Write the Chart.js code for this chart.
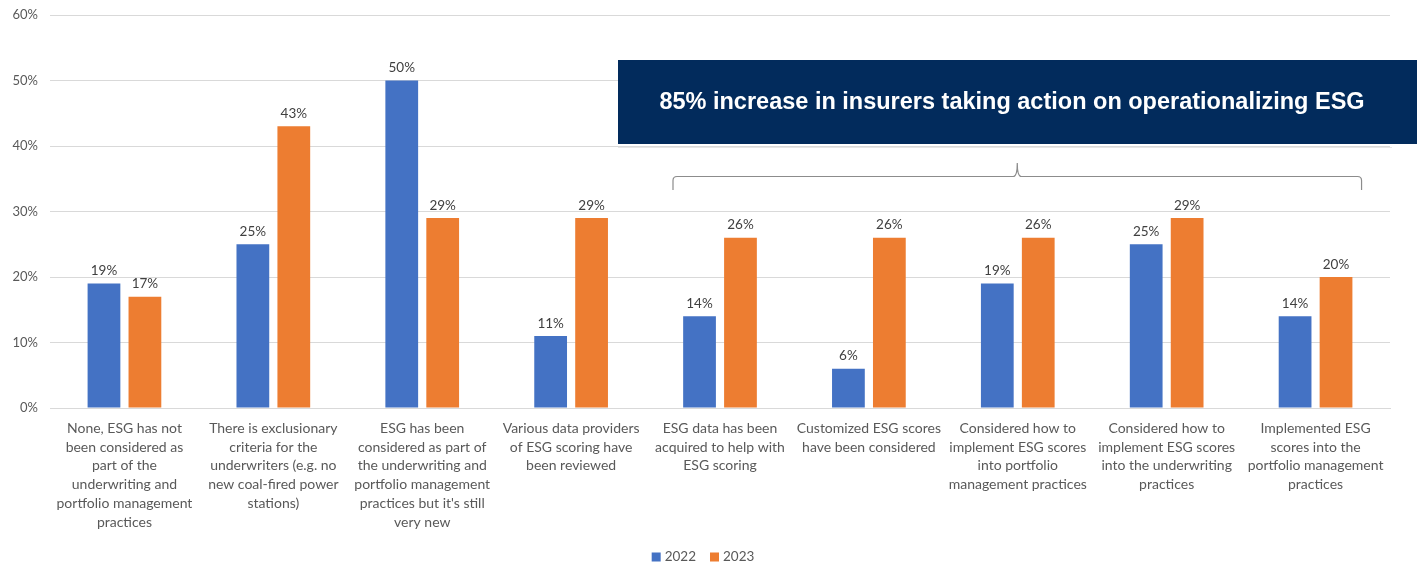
<!DOCTYPE html>
<html>
<head>
<meta charset="utf-8">
<script src="https://cdn.jsdelivr.net/npm/chart.js@4.4.0/dist/chart.umd.min.js"></script>
<style>
  html, body { margin: 0; padding: 0; background: #ffffff; }
  #wrap { width: 1419px; height: 567px; }
</style>
</head>
<body>
<div id="wrap"><canvas id="c" width="1419" height="567"></canvas></div>
<script>
// Survey responses, share of insurers per statement
const categories = [
  ["None, ESG has not", "been considered as", "part of the", "underwriting and", "portfolio management", "practices"],
  ["There is exclusionary", "criteria for the", "underwriters (e.g. no", "new coal-fired power", "stations)"],
  ["ESG has been", "considered as part of", "the underwriting and", "portfolio management", "practices but it's still", "very new"],
  ["Various data providers", "of ESG scoring have", "been reviewed"],
  ["ESG data has been", "acquired to help with", "ESG scoring"],
  ["Customized ESG scores", "have been considered"],
  ["Considered how to", "implement ESG scores", "into portfolio", "management practices"],
  ["Considered how to", "implement ESG scores", "into the underwriting", "practices"],
  ["Implemented ESG", "scores into the", "portfolio management", "practices"]
];
const values2022 = [19, 25, 50, 11, 14, 6, 19, 25, 14];
const values2023 = [17, 43, 29, 29, 26, 26, 26, 29, 20];
const yTicks = [0, 10, 20, 30, 40, 50, 60];
const bannerText = "85% increase in insurers taking action on operationalizing ESG";
// first and last category covered by the bracket under the banner
const braceFrom = 4;
const braceTo = 8;

const FONT = "Lato, 'Open Sans', sans-serif";
const TEXT = "#595959";

// value labels above each bar
const valueLabels = {
  id: "valueLabels",
  afterDatasetsDraw(chart) {
    const ctx = chart.ctx;
    ctx.save();
    ctx.font = "13.5px " + FONT;
    ctx.fillStyle = "#404040";
    ctx.textAlign = "center";
    ctx.textBaseline = "bottom";
    chart.data.datasets.forEach((ds, i) => {
      chart.getDatasetMeta(i).data.forEach((bar, j) => {
        ctx.fillText(ds.data[j] + "%", bar.x, bar.y - 6);
      });
    });
    ctx.restore();
  }
};

// legend row centred under the plot: small square swatch + series name
const legendRow = {
  id: "legendRow",
  afterDraw(chart) {
    const ctx = chart.ctx;
    const box = 9, gapText = 4, gapItem = 14, y = 557;
    ctx.save();
    ctx.font = "13.5px " + FONT;
    ctx.textBaseline = "middle";
    const items = chart.data.datasets.map(ds => ({
      text: ds.label, color: ds.backgroundColor,
      w: box + gapText + ctx.measureText(ds.label).width
    }));
    const total = items.reduce((s, it) => s + it.w, 0) + gapItem * (items.length - 1);
    let x = 703 - total / 2;
    items.forEach(it => {
      ctx.fillStyle = it.color;
      ctx.fillRect(x, y - box / 2, box, box);
      ctx.fillStyle = TEXT;
      ctx.fillText(it.text, x + box + gapText, y);
      x += it.w + gapItem;
    });
    ctx.restore();
  }
};

// navy call-out banner and the curly bracket beneath it
const callout = {
  id: "callout",
  afterDraw(chart) {
    const ctx = chart.ctx;
    const xs = chart.scales.x;
    ctx.save();

    // faint shadow line under the banner
    ctx.strokeStyle = "#e6e6e6";
    ctx.lineWidth = 1;
    ctx.beginPath();
    ctx.moveTo(618, 147.5);
    ctx.lineTo(1392, 147.5);
    ctx.stroke();

    ctx.fillStyle = "#022b5c";
    ctx.fillRect(618, 60, 799, 84);
    ctx.fillStyle = "#ffffff";
    ctx.font = "bold 23.5px 'Liberation Sans', Arial, sans-serif";
    ctx.textAlign = "center";
    ctx.textBaseline = "middle";
    ctx.fillText(bannerText, 1012, 103);

    // bracket spanning the grouped categories
    const x0 = xs.getPixelForValue(braceFrom) - 47;
    const x1 = xs.getPixelForValue(braceTo) + 46;
    const xm = (x0 + x1) / 2;
    const yl = 176.5, yEnd = 190, yTip = 163, r = 4;
    ctx.strokeStyle = "#8c8c8c";
    ctx.lineWidth = 1.2;
    ctx.beginPath();
    ctx.moveTo(x0, yEnd);
    ctx.lineTo(x0, yl + r);
    ctx.quadraticCurveTo(x0, yl, x0 + r, yl);
    ctx.lineTo(xm - r, yl);
    ctx.quadraticCurveTo(xm, yl, xm, yTip);
    ctx.quadraticCurveTo(xm, yl, xm + r, yl);
    ctx.lineTo(x1 - r, yl);
    ctx.quadraticCurveTo(x1, yl, x1, yl + r);
    ctx.lineTo(x1, yEnd);
    ctx.stroke();

    ctx.restore();
  }
};

new Chart(document.getElementById("c"), {
  type: "bar",
  data: {
    labels: categories,
    datasets: [
      { label: "2022", data: values2022, backgroundColor: "#4472c4" },
      { label: "2023", data: values2023, backgroundColor: "#ed7d31" }
    ]
  },
  options: {
    responsive: false,
    animation: false,
    devicePixelRatio: 1,
    categoryPercentage: 0.55,
    barPercentage: 0.8,
    layout: { padding: { left: 0, right: 29, top: 15, bottom: 0 } },
    plugins: {
      legend: { display: false },
      tooltip: { enabled: false }
    },
    scales: {
      y: {
        min: 0,
        max: 60,
        afterBuildTicks(scale) { scale.ticks = yTicks.map(v => ({ value: v })); },
        afterFit(scale) {
          scale.width = 50;
          scale.paddingTop = 0;
          scale.paddingBottom = 0;
        },
        ticks: {
          padding: 12,
          color: TEXT,
          font: { family: FONT, size: 13 },
          callback: v => v + "%"
        },
        grid: { color: "#d9d9d9", drawTicks: false },
        border: { display: false }
      },
      x: {
        afterFit(scale) { scale.height = 159; },
        ticks: {
          autoSkip: false,
          maxRotation: 0,
          padding: 11,
          color: TEXT,
          font: { family: FONT, size: 14, lineHeight: 1.34 }
        },
        grid: { display: false, drawTicks: false },
        border: { color: "#d9d9d9" }
      }
    }
  },
  plugins: [valueLabels, legendRow, callout]
});
</script>
</body>
</html>
